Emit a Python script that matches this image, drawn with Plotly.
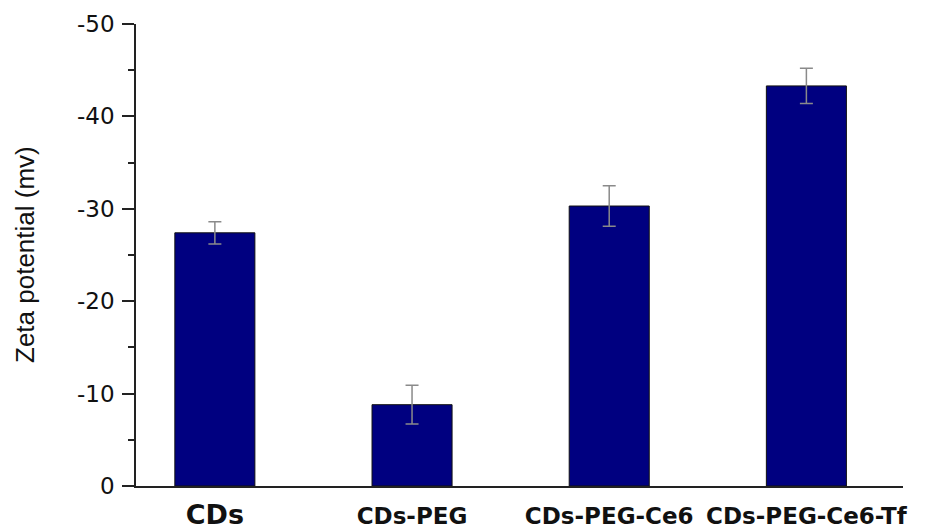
import plotly.graph_objects as go

categories = ["CDs", "CDs-PEG", "CDs-PEG-Ce6", "CDs-PEG-Ce6-Tf"]
zeta_values = [-27.4, -8.8, -30.3, -43.3]
zeta_errors = [1.2, 2.1, 2.2, 1.9]
y_tick_vals = [0, -10, -20, -30, -40, -50]
y_tick_text = ["0", "-10", "-20", "-30", "-40", "-50"]
y_title = "Zeta potential (mv)"

x_pos = list(range(len(categories)))
label_sizes = [27, 23, 23, 23]
tick_text = [f"<span style='font-size:{s}px'><b>{c}</b></span>" for c, s in zip(categories, label_sizes)]

fig = go.Figure()
fig.add_trace(go.Bar(
    x=x_pos, y=zeta_values, width=0.406,
    marker=dict(color="#000080", line=dict(color="#111111", width=1)),
    error_y=dict(type="data", array=zeta_errors, color="#8a8a8a", thickness=1.5, width=6.5),
))

fig.update_layout(
    width=919, height=521,
    margin=dict(l=128, r=24, t=16, b=43),
    paper_bgcolor="white", plot_bgcolor="white",
    showlegend=False,
    font=dict(family="DejaVu Sans, Arial, sans-serif", color="#111111"),
    xaxis=dict(
        range=[-0.4, 3.49], tickvals=x_pos, ticktext=tick_text, automargin=False,
        showline=True, linecolor="#222222", linewidth=1.6,
        ticks="", showgrid=False, zeroline=False, ticklabelstandoff=9,
        tickfont=dict(size=23, family="DejaVu Sans", color="#111111"),
    ),
    yaxis=dict(
        range=[0, -50], tickvals=y_tick_vals, ticktext=y_tick_text, automargin=False,
        showline=True, linecolor="#222222", linewidth=1.6,
        ticks="outside", ticklen=12, tickwidth=1.6, tickcolor="#222222",
        minor=dict(ticks="outside", ticklen=6, tickwidth=1.6, tickcolor="#222222", dtick=5, showgrid=False),
        showgrid=False, zeroline=False, ticklabelstandoff=3,
        tickfont=dict(size=23, family="DejaVu Sans", color="#111111"),
    ),
    annotations=[dict(
        text=y_title, textangle=-90, xref="paper", yref="paper",
        x=0, y=0.5, xanchor="center", yanchor="middle", xshift=-111, showarrow=False,
        font=dict(size=26, family="Liberation Sans, Arial", color="#111111"),
    )],
)

fig.write_html("out.html")
